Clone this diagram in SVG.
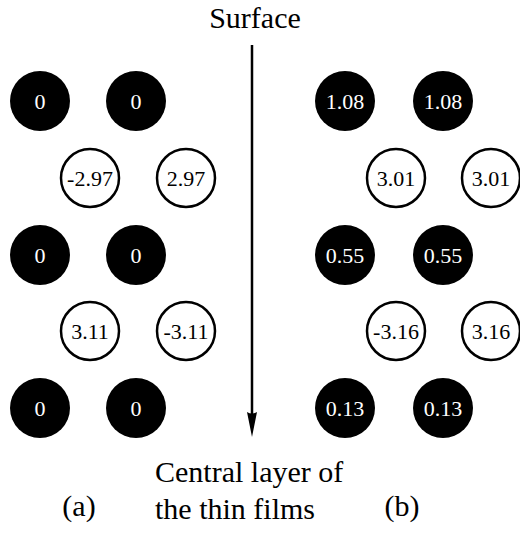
<svg xmlns="http://www.w3.org/2000/svg" width="520" height="533" viewBox="0 0 520 533">
<style>
.b{fill:#000}
.o{fill:#fff;stroke:#000;stroke-width:2.5}
.t{font-size:22px;text-anchor:middle}
.tw{fill:#fff}
.tb{fill:#000}
.lab{font-size:30px;fill:#000}
</style>
<g font-family="Liberation Serif, Times New Roman, serif">
<g id="connectors">
<line x1="252" y1="45" x2="252" y2="415" stroke="#000" stroke-width="2.5"/>
<path d="M247,412 Q252,415 257,412 L252,437 Z" fill="#000"/>
</g>
<g id="labels">
<text class="lab" x="255" y="28" text-anchor="middle">Surface</text>
<text class="lab" x="155" y="482">Central layer of</text>
<text class="lab" x="155" y="519">the thin films</text>
<text class="lab" x="79" y="516" text-anchor="middle">(a)</text>
<text class="lab" x="402" y="516" text-anchor="middle">(b)</text>
</g>
<g id="a1"><circle class="b" cx="40" cy="101" r="30"/><text class="t tw" x="40" y="109">0</text></g>
<g id="a2"><circle class="b" cx="136" cy="101" r="30"/><text class="t tw" x="136" y="109">0</text></g>
<g id="a3"><circle class="o" cx="90" cy="178" r="29"/><text class="t tb" x="90" y="186">-2.97</text></g>
<g id="a4"><circle class="o" cx="186" cy="178" r="29"/><text class="t tb" x="186" y="186">2.97</text></g>
<g id="a5"><circle class="b" cx="40" cy="255" r="30"/><text class="t tw" x="40" y="263">0</text></g>
<g id="a6"><circle class="b" cx="136" cy="255" r="30"/><text class="t tw" x="136" y="263">0</text></g>
<g id="a7"><circle class="o" cx="90" cy="331" r="29"/><text class="t tb" x="90" y="339">3.11</text></g>
<g id="a8"><circle class="o" cx="186" cy="331" r="29"/><text class="t tb" x="186" y="339">-3.11</text></g>
<g id="a9"><circle class="b" cx="40" cy="408" r="30"/><text class="t tw" x="40" y="416">0</text></g>
<g id="a10"><circle class="b" cx="136" cy="408" r="30"/><text class="t tw" x="136" y="416">0</text></g>
<g id="b1"><circle class="b" cx="345" cy="101" r="30"/><text class="t tw" x="345" y="109">1.08</text></g>
<g id="b2"><circle class="b" cx="443" cy="101" r="30"/><text class="t tw" x="443" y="109">1.08</text></g>
<g id="b3"><circle class="o" cx="396" cy="178" r="29"/><text class="t tb" x="396" y="186">3.01</text></g>
<g id="b4"><circle class="o" cx="491" cy="178" r="29"/><text class="t tb" x="491" y="186">3.01</text></g>
<g id="b5"><circle class="b" cx="345" cy="255" r="30"/><text class="t tw" x="345" y="263">0.55</text></g>
<g id="b6"><circle class="b" cx="443" cy="255" r="30"/><text class="t tw" x="443" y="263">0.55</text></g>
<g id="b7"><circle class="o" cx="396" cy="331" r="29"/><text class="t tb" x="396" y="339">-3.16</text></g>
<g id="b8"><circle class="o" cx="491" cy="331" r="29"/><text class="t tb" x="491" y="339">3.16</text></g>
<g id="b9"><circle class="b" cx="345" cy="408" r="30"/><text class="t tw" x="345" y="416">0.13</text></g>
<g id="b10"><circle class="b" cx="443" cy="408" r="30"/><text class="t tw" x="443" y="416">0.13</text></g>
</g>
</svg>
